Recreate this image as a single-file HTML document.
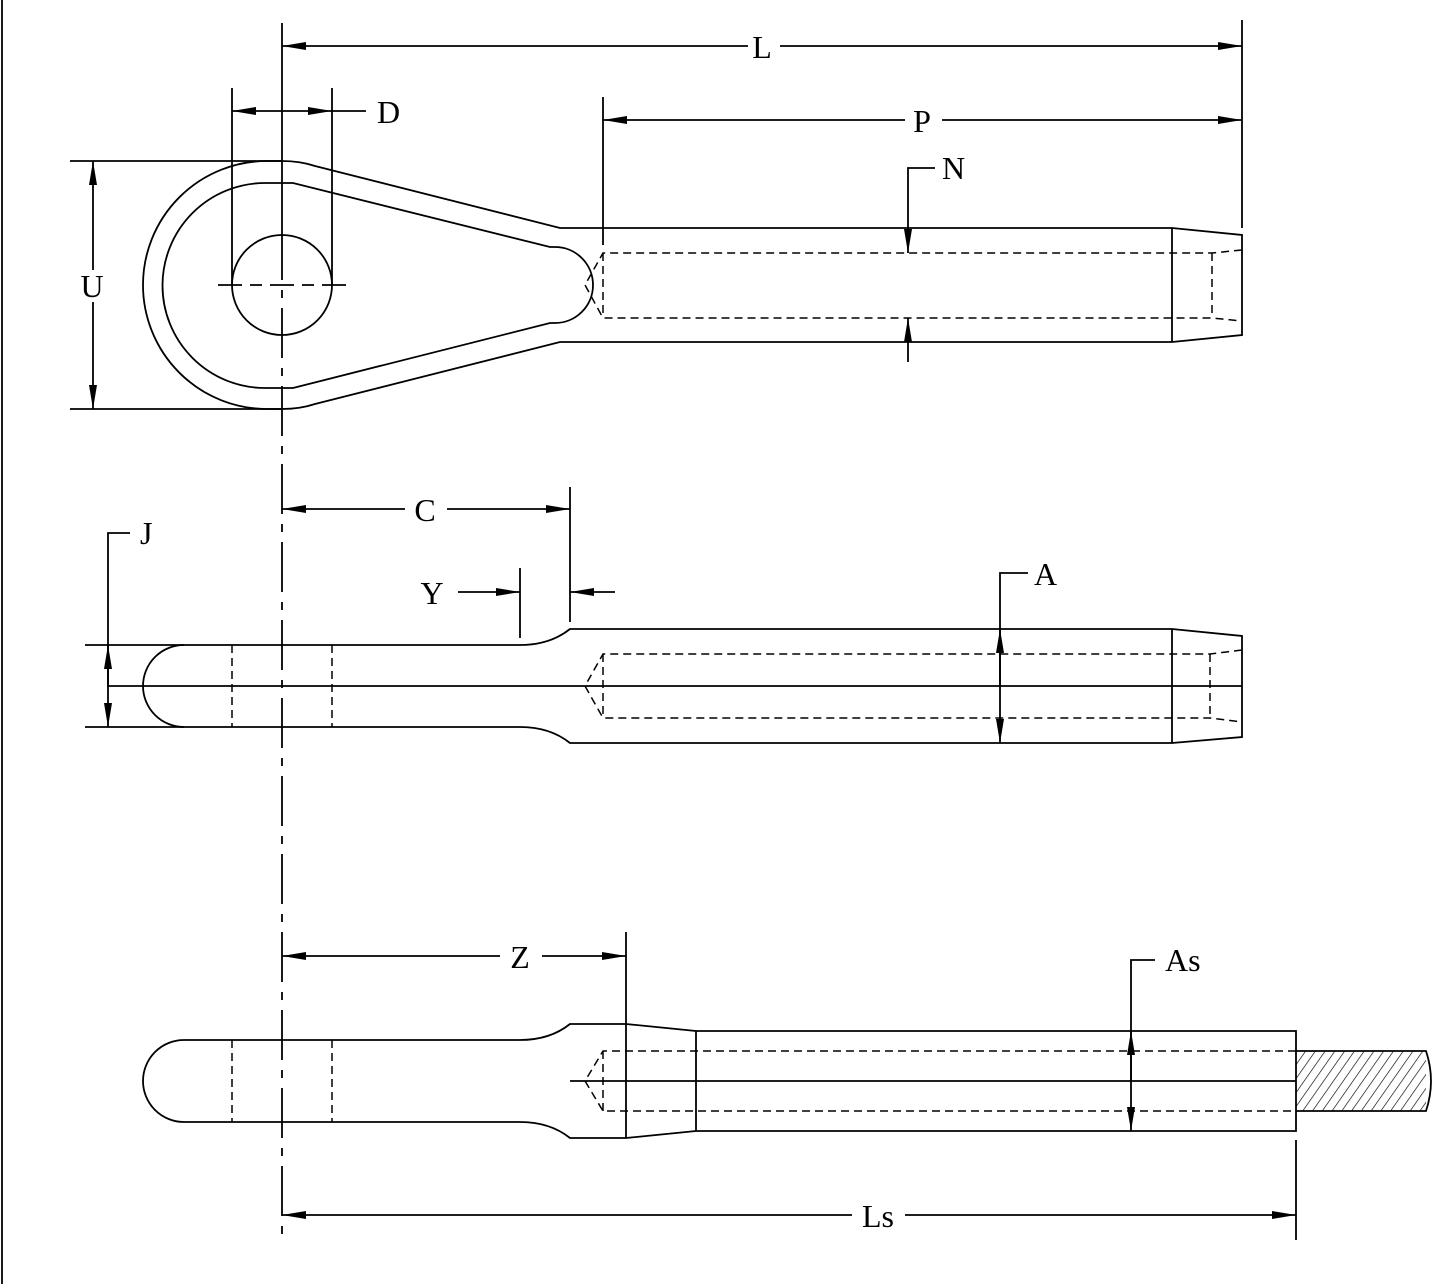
<!DOCTYPE html>
<html><head><meta charset="utf-8"><style>
html,body{margin:0;padding:0;background:#fff}
svg{display:block}
text{font-family:"Liberation Serif",serif;font-size:32px;fill:#000}
</style></head><body>
<svg width="1445" height="1284" viewBox="0 0 1445 1284" xmlns="http://www.w3.org/2000/svg">
<defs>
<marker id="a" viewBox="0 0 24 8" refX="24" refY="4" markerWidth="24" markerHeight="8" markerUnits="userSpaceOnUse" orient="auto-start-reverse"><path d="M0,0 L24,4 L0,8 z" fill="#000"/></marker>
<pattern id="h" width="8" height="8" patternUnits="userSpaceOnUse" patternTransform="rotate(35)"><line x1="0" y1="0" x2="0" y2="8" stroke="#000" stroke-width="1.3"/></pattern>
</defs>
<g fill="none" stroke="#000" stroke-width="1.8">
<line x1="2" y1="0" x2="2" y2="1284"/>
<line x1="282" y1="23" x2="282" y2="230"/>
<line x1="282" y1="230" x2="282" y2="1235" stroke-dasharray="50,10,8,10"/>

<path d="M282,161 L267,161 A124,124 0 0 0 267,409 L282,409 Q300,409 315,404 L560,342 Q565,342 575,342 L1172,342 L1242,335 L1242,235 L1172,228 L575,228 Q565,228 560,228 L315,166 Q300,161 282,161 Z"/>
<path d="M293,183 L265,183 A102.5,102.5 0 0 0 265,388 L293,388 L550,323 Q553,323 555,323 A38,38 0 0 0 555,247 Q553,247 550,247 Z"/>
<line x1="1172" y1="228" x2="1172" y2="342"/>
<circle cx="282" cy="285" r="50"/>
<line x1="218" y1="285" x2="346" y2="285" stroke-dasharray="24,8,12,8"/>
<g stroke-dasharray="8,5" stroke-width="1.5">
<path d="M1242,250 L1212,253 L603,253 L585,285 L603,318 L1212,318 L1242,321"/>
<line x1="603" y1="253" x2="603" y2="318"/>
<line x1="1212" y1="253" x2="1212" y2="318"/>
</g>
<line x1="1242" y1="20" x2="1242" y2="228"/>
<line x1="282" y1="46" x2="748" y2="46" marker-start="url(#a)"/>
<line x1="780" y1="46" x2="1242" y2="46" marker-end="url(#a)"/>
<line x1="603" y1="97" x2="603" y2="245"/>
<line x1="603" y1="120" x2="905" y2="120" marker-start="url(#a)"/>
<line x1="942" y1="120" x2="1242" y2="120" marker-end="url(#a)"/>
<line x1="232" y1="88" x2="232" y2="285"/>
<line x1="332" y1="88" x2="332" y2="285"/>
<line x1="282" y1="111" x2="232" y2="111" marker-end="url(#a)"/>
<line x1="282" y1="111" x2="332" y2="111" marker-end="url(#a)"/>
<line x1="332" y1="111" x2="366" y2="111"/>
<path d="M935,168 L908,168 L908,253" marker-end="url(#a)"/>
<line x1="908" y1="362" x2="908" y2="318" marker-end="url(#a)"/>
<line x1="70" y1="161" x2="282" y2="161"/>
<line x1="70" y1="409" x2="282" y2="409"/>
<line x1="93" y1="270" x2="93" y2="161" marker-end="url(#a)"/>
<line x1="93" y1="302" x2="93" y2="409" marker-end="url(#a)"/>

<path d="M184,645 A41,41 0 0 0 184,727 L520,727 Q550,727 570,743 L1172,743 L1242,737 L1242,636 L1172,629 L570,629 Q550,645 520,645 Z"/>
<line x1="1172" y1="629" x2="1172" y2="743"/>
<line x1="107" y1="686" x2="1242" y2="686"/>
<g stroke-dasharray="8,5" stroke-width="1.5">
<line x1="232" y1="645" x2="232" y2="727"/>
<line x1="332" y1="645" x2="332" y2="727"/>
<path d="M1242,650 L1210,654 L603,654 L585,686 L603,718 L1210,718 L1242,722"/>
<line x1="603" y1="654" x2="603" y2="718"/>
<line x1="1210" y1="654" x2="1210" y2="718"/>
</g>
<line x1="85" y1="645" x2="184" y2="645"/>
<line x1="85" y1="727" x2="184" y2="727"/>
<path d="M130,533 L108,533 L108,686"/>
<line x1="108" y1="686" x2="108" y2="645" marker-end="url(#a)"/>
<line x1="108" y1="686" x2="108" y2="727" marker-end="url(#a)"/>
<line x1="570" y1="487" x2="570" y2="622"/>
<line x1="282" y1="509" x2="405" y2="509" marker-start="url(#a)"/>
<line x1="447" y1="509" x2="570" y2="509" marker-end="url(#a)"/>
<line x1="520" y1="568" x2="520" y2="638"/>
<line x1="458" y1="592" x2="520" y2="592" marker-end="url(#a)"/>
<line x1="615" y1="592" x2="570" y2="592" marker-end="url(#a)"/>
<path d="M1028,573 L1000,573 L1000,686"/>
<line x1="1000" y1="686" x2="1000" y2="629" marker-end="url(#a)"/>
<line x1="1000" y1="686" x2="1000" y2="743" marker-end="url(#a)"/>

<path d="M184,1040 A41,41 0 0 0 184,1122 L520,1122 Q550,1122 570,1138 L626,1138 L696,1131 L1296,1131 L1296,1031 L696,1031 L626,1024 L570,1024 Q550,1040 520,1040 Z"/>
<line x1="626" y1="1024" x2="626" y2="1138"/>
<line x1="696" y1="1031" x2="696" y2="1131"/>
<line x1="570" y1="1081" x2="1296" y2="1081"/>
<rect x="1296" y="1051" width="130" height="60" fill="url(#h)" stroke="none"/>
<path d="M1296,1051 L1426,1051 Q1436,1081 1426,1111 L1296,1111"/>
<g stroke-dasharray="8,5" stroke-width="1.5">
<line x1="232" y1="1040" x2="232" y2="1122"/>
<line x1="332" y1="1040" x2="332" y2="1122"/>
<path d="M1296,1051 L603,1051 L585,1081 L603,1111 L1296,1111"/>
<line x1="603" y1="1051" x2="603" y2="1111"/>
</g>
<line x1="626" y1="932" x2="626" y2="1024"/>
<line x1="282" y1="956" x2="500" y2="956" marker-start="url(#a)"/>
<line x1="542" y1="956" x2="626" y2="956" marker-end="url(#a)"/>
<path d="M1155,960 L1131,960 L1131,1081"/>
<line x1="1131" y1="1081" x2="1131" y2="1031" marker-end="url(#a)"/>
<line x1="1131" y1="1081" x2="1131" y2="1131" marker-end="url(#a)"/>
<line x1="1296" y1="1140" x2="1296" y2="1240"/>
<line x1="282" y1="1215" x2="852" y2="1215" marker-start="url(#a)"/>
<line x1="905" y1="1215" x2="1296" y2="1215" marker-end="url(#a)"/>
</g>
<text x="762" y="58" text-anchor="middle">L</text>
<text x="922" y="132" text-anchor="middle">P</text>
<text x="377" y="123">D</text>
<text x="942" y="179">N</text>
<text x="92" y="297" text-anchor="middle">U</text>
<text x="140" y="544">J</text>
<text x="425" y="521" text-anchor="middle">C</text>
<text x="432" y="604" text-anchor="middle">Y</text>
<text x="1034" y="585">A</text>
<text x="520" y="968" text-anchor="middle">Z</text>
<text x="1165" y="971">As</text>
<text x="878" y="1227" text-anchor="middle">Ls</text>
</svg>
</body></html>
